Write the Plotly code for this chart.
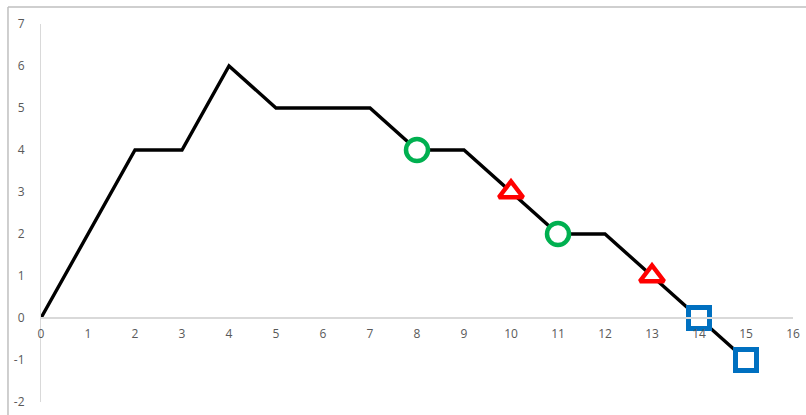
import plotly.graph_objects as go

# Path of the line
x_vals = [0, 1, 2, 3, 4, 5, 6, 7, 8, 9, 10, 11, 12, 13, 14, 15]
y_vals = [0, 2, 4, 4, 6, 5, 5, 5, 4, 4, 3, 2, 2, 1, 0, -1]

# Highlighted points
circle_x = [8, 11]
circle_y = [4, 2]
triangle_x = [10, 13]
triangle_y = [3, 1]
square_x = [14, 15]
square_y = [0, -1]

x_ticks = list(range(0, 17))
y_ticks = list(range(-2, 8))

X_RANGE = [0, 16]
Y_RANGE = [-2, 7]

fig = go.Figure()

fig.add_trace(go.Scatter(
    x=x_vals, y=y_vals, mode="lines",
    line=dict(color="black", width=3.4),
    hoverinfo="skip", showlegend=False,
))

fig.add_trace(go.Scatter(
    x=circle_x, y=circle_y, mode="markers",
    marker=dict(symbol="circle", size=22, color="white",
                line=dict(color="#00B050", width=4.5)),
    showlegend=False,
))
fig.add_trace(go.Scatter(
    x=triangle_x, y=triangle_y, mode="markers",
    marker=dict(symbol="triangle-up", size=21, color="white",
                line=dict(color="#FF0000", width=4.5)),
    showlegend=False,
))
fig.add_trace(go.Scatter(
    x=square_x, y=square_y, mode="markers",
    marker=dict(symbol="square", size=21, color="white",
                line=dict(color="#0070C0", width=5)),
    showlegend=False,
))

tick_font = dict(family="Open Sans, Liberation Sans, sans-serif", size=12, color="#595959")

# x axis drawn at y = 0
zero_pos = (0 - Y_RANGE[0]) / (Y_RANGE[1] - Y_RANGE[0])

fig.update_layout(
    width=806, height=415,
    margin=dict(l=41, r=13, t=24, b=13, autoexpand=False),
    paper_bgcolor="white", plot_bgcolor="white",
    xaxis=dict(
        range=X_RANGE, tickvals=x_ticks, ticktext=[str(v) for v in x_ticks],
        showgrid=False, zeroline=False, automargin=False,
        showline=True, linecolor="#D9D9D9", linewidth=1.5,
        anchor="free", position=zero_pos,
        ticks="outside", ticklen=5, tickcolor="rgba(0,0,0,0)",
        tickfont=tick_font,
    ),
    yaxis=dict(
        range=Y_RANGE, tickvals=y_ticks, ticktext=[str(v) for v in y_ticks],
        showgrid=False, zeroline=False, automargin=False,
        showline=True, linecolor="#D9D9D9", linewidth=1,
        ticks="outside", ticklen=13, tickcolor="rgba(0,0,0,0)",
        tickfont=tick_font,
    ),
    shapes=[
        dict(type="line", xref="paper", yref="paper",
             x0=-0.0439, x1=1.1, y0=1.045, y1=1.045,
             line=dict(color="#BFBFBF", width=1.5)),
        dict(type="line", xref="paper", yref="paper",
             x0=-0.0439, x1=-0.0439, y0=-0.1, y1=1.045,
             line=dict(color="#BFBFBF", width=1.5)),
    ],
)

fig.write_html("out.html")
